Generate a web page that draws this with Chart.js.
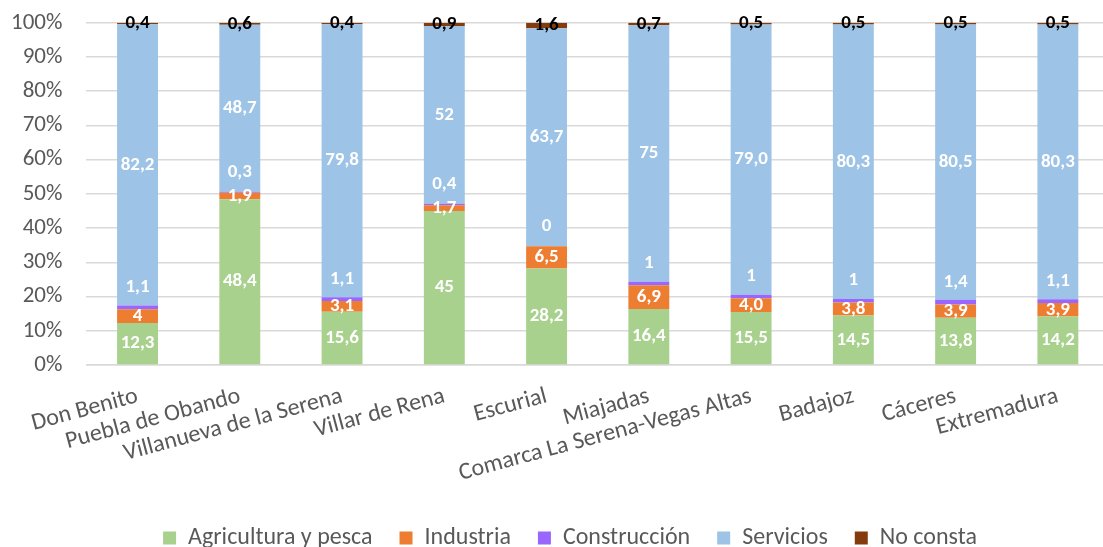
<!DOCTYPE html>
<html lang="es">
<head>
<meta charset="UTF-8">
<title>Empleo por sectores</title>
<script src="https://cdn.jsdelivr.net/npm/chart.js"></script>
<style>
  body { margin: 0; overflow: hidden; background: #fff; }
  #wrap { position: absolute; left: -17px; top: -15px; width: 1126px; height: 575px; }
</style>
</head>
<body>
<div id="wrap"><canvas id="myChart"></canvas></div>
<script>
// categorias
const zonas = ["Don Benito", "Puebla de Obando", "Villanueva de la Serena", "Villar de Rena",
  "Escurial", "Miajadas", "Comarca La Serena-Vegas Altas", "Badajoz", "Cáceres", "Extremadura"];

// valores tal como aparecen en las etiquetas (%)
const agricultura  = ["12,3", "48,4", "15,6", "45",  "28,2", "16,4", "15,5", "14,5", "13,8", "14,2"];
const industria    = ["4",    "1,9",  "3,1",  "1,7", "6,5",  "6,9",  "4,0",  "3,8",  "3,9",  "3,9"];
const construccion = ["1,1",  "0,3",  "1,1",  "0,4", "0",    "1",    "1",    "1",    "1,4",  "1,1"];
const servicios    = ["82,2", "48,7", "79,8", "52",  "63,7", "75",   "79,0", "80,3", "80,5", "80,3"];
const noConsta     = ["0,4",  "0,6",  "0,4",  "0,9", "1,6",  "0,7",  "0,5",  "0,5",  "0,5",  "0,5"];

const yTicks = [0, 10, 20, 30, 40, 50, 60, 70, 80, 90, 100];

const num = s => parseFloat(s.replace(",", "."));
const series = [agricultura, industria, construccion, servicios, noConsta];
const totals = zonas.map((z, i) => series.reduce((acc, s) => acc + num(s[i]), 0));
const pct = arr => arr.map((s, i) => num(s) / totals[i] * 100);

const font = 'Calibri, Carlito, "Open Sans", sans-serif';
const grey = "#595959";

// etiquetas de datos dibujadas a mano (no hay plugin datalabels)
const labelPlugin = {
  id: "segLabels",
  afterLayout(chart) {
    // la leyenda del original va algo desplazada a la derecha
    chart.legend.left += 22;
    chart.legend.right += 22;
  },
  afterDatasetsDraw(chart) {
    const ctx = chart.ctx;
    ctx.save();
    ctx.font = "bold 19px " + font;
    ctx.textAlign = "center";
    ctx.textBaseline = "middle";
    chart.data.datasets.forEach((ds, di) => {
      const meta = chart.getDatasetMeta(di);
      if (meta.hidden) return;
      meta.data.forEach((bar, i) => {
        const yc = (bar.y + bar.base) / 2 + (ds.labelOffset || 0);
        ctx.fillStyle = ds.labelColor || "#fff";
        ctx.fillText(ds.texts[i], bar.x, yc);
      });
    });
    ctx.restore();
  }
};

const mk = (label, arr, color, extra) => Object.assign({
  label: label, data: pct(arr), texts: arr, backgroundColor: color,
  barPercentage: 0.4, categoryPercentage: 1.0
}, extra || {});

new Chart(document.getElementById("myChart"), {
  type: "bar",
  data: {
    labels: zonas,
    datasets: [
      mk("Agricultura y pesca", agricultura, "#a9d18e"),
      mk("Industria", industria, "#ed7d31"),
      mk("Construcción", construccion, "#9966ff", { labelOffset: -20 }),
      mk("Servicios", servicios, "#9dc3e6"),
      mk("No consta", noConsta, "#843c0c", { labelColor: "#000" })
    ]
  },
  options: {
    responsive: true,
    maintainAspectRatio: false,
    animation: false,
    layout: { padding: { left: 4, top: 0, right: 0, bottom: 0 } },
    plugins: {
      tooltip: { enabled: false },
      legend: {
        position: "bottom",
        labels: {
          color: grey,
          font: { family: font, size: 24 },
          boxWidth: 13, boxHeight: 13, padding: 27
        }
      }
    },
    scales: {
      x: {
        stacked: true,
        grid: { display: false },
        border: { color: "#d9d9d9", width: 1.5 },
        afterFit: axis => { axis.height += 2; },
        ticks: {
          color: grey, font: { family: font, size: 24 },
          autoSkip: false, minRotation: 15, maxRotation: 15, padding: 9
        }
      },
      y: {
        stacked: true,
        min: 0, max: 100,
        afterBuildTicks: axis => { axis.ticks = yTicks.map(v => ({ value: v })); },
        grid: { color: "#d9d9d9", lineWidth: 1.5, drawTicks: false },
        border: { display: false },
        ticks: {
          color: grey, font: { family: font, size: 23 }, padding: 24,
          callback: v => v + "%"
        }
      }
    }
  },
  plugins: [labelPlugin]
});
</script>
</body>
</html>
